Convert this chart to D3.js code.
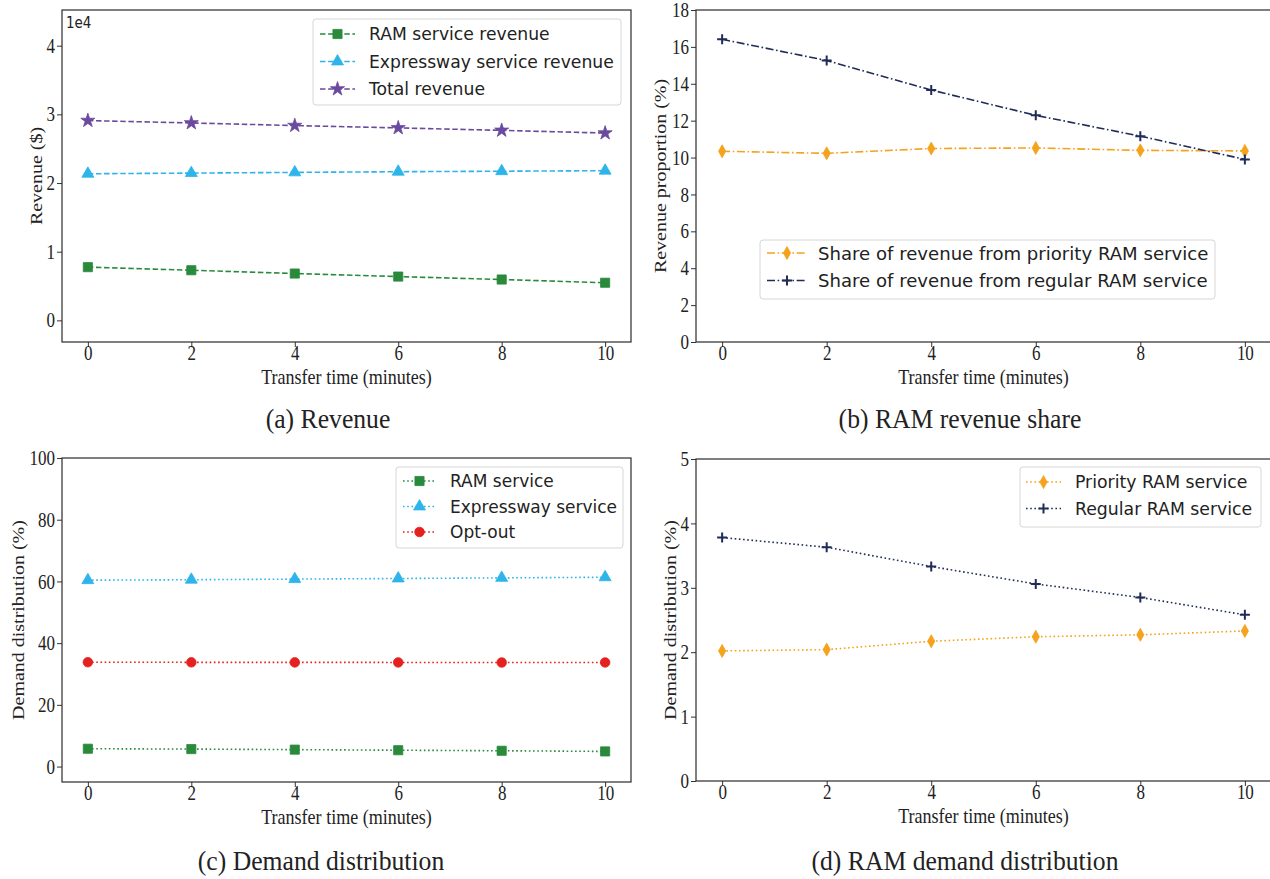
<!DOCTYPE html>
<html><head><meta charset="utf-8">
<script src="https://cdn.jsdelivr.net/npm/d3@7"></script>
<style>body{margin:0;background:#fff}svg{display:block}</style>
</head><body>
<svg id="c" width="1270" height="879"></svg>
<script>
// ---------- data ----------
const transferTimes = [0, 2, 4, 6, 8, 10];
const xTicks = [0, 2, 4, 6, 8, 10];

const ramRevenue        = [7750, 7300, 6820, 6380, 5950, 5480];
const expresswayRevenue = [21350, 21450, 21550, 21650, 21720, 21800];
const totalRevenue      = [29100, 28750, 28370, 28030, 27670, 27280];
const revenueTicks      = [0, 10000, 20000, 30000, 40000];

const priorityShare = [10.34, 10.23, 10.49, 10.52, 10.39, 10.36];
const regularShare  = [16.41, 15.26, 13.66, 12.29, 11.16, 9.90];
const shareTicks    = [0, 2, 4, 6, 8, 10, 12, 14, 16, 18];

const ramDemand        = [5.78, 5.67, 5.49, 5.30, 5.12, 4.91];
const expresswayDemand = [60.40, 60.55, 60.75, 60.95, 61.15, 61.35];
const optOutDemand     = [33.82, 33.78, 33.76, 33.75, 33.73, 33.74];
const demandTicks      = [0, 20, 40, 60, 80, 100];

const priorityDemand = [2.02, 2.04, 2.17, 2.24, 2.27, 2.33];
const regularDemand  = [3.78, 3.63, 3.33, 3.06, 2.85, 2.58];
const ramDemandTicks = [0, 1, 2, 3, 4, 5];

// ---------- styles ----------
const C = {green:"#2a8a3c", blue:"#2db4ea", purple:"#6a4a9e", orange:"#f5a21c", navy:"#1f2c58", red:"#e5211f"};
const DASH = {dashed:"5.5,2.6", dashdot:"8,2.6,1.6,2.6", dotted:"1.6,2.6"};
const SERIF = "'Liberation Serif','Times New Roman',serif";
const SANS = "'DejaVu Sans',sans-serif";
const SQ = 0.85;

const svg = d3.select("#c");

function markerPath(type) {
  if (type === "square") return d3.symbol(d3.symbolSquare, 84)();
  if (type === "triangle") return d3.symbol(d3.symbolTriangle, 62)();
  if (type === "star") return d3.symbol(d3.symbolStar, 62)();
  if (type === "circle") return d3.symbol(d3.symbolCircle, 72)();
  if (type === "thindiamond") return "M0,-6.5L3.6,0L0,6.5L-3.6,0Z";
  if (type === "plus") return "M-5,0H5M0,-5V5";
  return "";
}
function drawMarker(g, type, color, x, y) {
  const p = g.append("path").attr("d", markerPath(type)).attr("transform", `translate(${x},${y})`);
  if (type === "plus") p.attr("fill", "none").attr("stroke", color).attr("stroke-width", 2);
  else p.attr("fill", color).attr("stroke", color).attr("stroke-width", 0.8);
}

function squeezeText(sel, k) {
  sel.each(function () {
    const t = d3.select(this);
    const x = +t.attr("x") || 0;
    t.attr("x", x / k).attr("transform", `scale(${k},1)`);
  });
}

function panel(cfg) {
  const g = svg.append("g");
  const x = d3.scaleLinear().domain([-0.5, 10.5]).range([cfg.L, cfg.R]);
  const y = d3.scaleLinear().domain(cfg.yDomain).range([cfg.B, cfg.T]);

  // axes
  const ax = g.append("g").attr("transform", `translate(0,${cfg.B})`)
    .call(d3.axisBottom(x).tickValues(xTicks).tickSize(5).tickPadding(3).tickFormat(d3.format("d")));
  const ay = g.append("g").attr("transform", `translate(${cfg.L},0)`)
    .call(d3.axisLeft(y).tickValues(cfg.yTicks).tickSize(5).tickPadding(3).tickFormat(cfg.yFmt));
  [ax, ay].forEach(a => {
    a.select(".domain").remove();
    a.selectAll(".tick line").attr("stroke", "#333").attr("stroke-width", 1);
    a.selectAll(".tick text").attr("font-family", SERIF).attr("font-size", 20).attr("fill", "#222");
  });
  ax.selectAll(".tick text").attr("y", 18.5).attr("dy", 0);
  squeezeText(ax.selectAll(".tick text"), SQ);
  ay.selectAll(".tick text").attr("x", -7).attr("dy", "0.33em");
  squeezeText(ay.selectAll(".tick text"), SQ);

  // series
  cfg.series.forEach(s => {
    const pts = transferTimes.map((t, i) => [x(t), y(s.values[i])]);
    g.append("path").attr("d", d3.line()(pts)).attr("fill", "none")
      .attr("stroke", s.color).attr("stroke-width", 1.6).attr("stroke-dasharray", DASH[s.dash]);
    pts.forEach(p => drawMarker(g, s.marker, s.color, p[0], p[1]));
  });

  // frame
  g.append("rect").attr("x", cfg.L).attr("y", cfg.T).attr("width", cfg.R - cfg.L).attr("height", cfg.B - cfg.T)
    .attr("fill", "none").attr("stroke", "#2b2b2b").attr("stroke-width", 1.2);

  // offset text
  if (cfg.offset) {
    g.append("text").attr("x", (cfg.L + 4) / 0.9).attr("y", cfg.T + 18).attr("transform", "scale(0.9,1)")
      .attr("font-family", SANS).attr("font-size", 15).attr("fill", "#222").text(cfg.offset);
  }

  // legend
  const lg = cfg.legend;
  g.append("rect").attr("x", lg.x).attr("y", lg.y).attr("width", lg.w).attr("height", lg.h).attr("rx", 3)
    .attr("fill", "#fff").attr("fill-opacity", 0.85).attr("stroke", "#d6d6d6").attr("stroke-width", 1);
  cfg.series.forEach((s, i) => {
    const yy = lg.y + lg.first + i * lg.step;
    g.append("line").attr("x1", lg.x + lg.hx0).attr("x2", lg.x + lg.hx1).attr("y1", yy).attr("y2", yy)
      .attr("stroke", s.color).attr("stroke-width", 1.6).attr("stroke-dasharray", DASH[s.dash]);
    drawMarker(g, s.marker, s.color, lg.x + (lg.hx0 + lg.hx1) / 2, yy);
    g.append("text").attr("x", lg.x + lg.tx).attr("y", yy).attr("dy", "0.36em")
      .attr("font-family", SANS).attr("font-size", lg.fs).attr("fill", "#222").text(s.name);
  });

  // axis labels
  const XS = 0.88;
  g.append("text").attr("x", ((cfg.L + cfg.R) / 2) / XS).attr("y", cfg.B + 42)
    .attr("transform", `scale(${XS},1)`).attr("text-anchor", "middle")
    .attr("font-family", SERIF).attr("font-size", 20.5).attr("fill", "#222").text("Transfer time (minutes)");
  g.append("text").attr("transform", `translate(${cfg.ylx},${(cfg.T + cfg.B) / 2}) scale(${SQ},1) rotate(-90)`)
    .attr("text-anchor", "middle").attr("font-family", SERIF).attr("font-size", 20).attr("fill", "#222")
    .text(cfg.ylabel);

  // caption
  g.append("text").attr("x", cfg.capX / 0.95).attr("y", cfg.capY).attr("transform", "scale(0.95,1)")
    .attr("text-anchor", "middle").attr("font-family", SERIF).attr("font-size", 27).attr("fill", "#222")
    .text(cfg.caption);
}

panel({
  L: 62, R: 631, T: 10, B: 342, yDomain: [-3150, 45200], yTicks: revenueTicks, yFmt: d => d / 10000,
  offset: "1e4", ylabel: "Revenue ($)", ylx: 42, caption: "(a) Revenue", capX: 328, capY: 428,
  series: [
    {name: "RAM service revenue", values: ramRevenue, color: C.green, dash: "dashed", marker: "square"},
    {name: "Expressway service revenue", values: expresswayRevenue, color: C.blue, dash: "dashed", marker: "triangle"},
    {name: "Total revenue", values: totalRevenue, color: C.purple, dash: "dashed", marker: "star"}
  ],
  legend: {x: 313, y: 19, w: 308, h: 86, first: 15, step: 27.5, hx0: 7, hx1: 42, tx: 56, fs: 17.2}
});

panel({
  L: 696, R: 1271, T: 10, B: 342, yDomain: [0, 18], yTicks: shareTicks, yFmt: d3.format("d"),
  ylabel: "Revenue proportion (%)", ylx: 666, caption: "(b) RAM revenue share", capX: 960, capY: 428,
  series: [
    {name: "Share of revenue from priority RAM service", values: priorityShare, color: C.orange, dash: "dashdot", marker: "thindiamond"},
    {name: "Share of revenue from regular RAM service", values: regularShare, color: C.navy, dash: "dashdot", marker: "plus"}
  ],
  legend: {x: 760, y: 240, w: 455, h: 59, first: 13, step: 27.5, hx0: 7, hx1: 47, tx: 58, fs: 18.1}
});

panel({
  L: 62, R: 631, T: 458, B: 782, yDomain: [-5, 100], yTicks: demandTicks, yFmt: d3.format("d"),
  ylabel: "Demand distribution (%)", ylx: 24, caption: "(c) Demand distribution", capX: 321, capY: 870,
  series: [
    {name: "RAM service", values: ramDemand, color: C.green, dash: "dotted", marker: "square"},
    {name: "Expressway service", values: expresswayDemand, color: C.blue, dash: "dotted", marker: "triangle"},
    {name: "Opt-out", values: optOutDemand, color: C.red, dash: "dotted", marker: "circle"}
  ],
  legend: {x: 396, y: 467, w: 227, h: 81, first: 14, step: 25.5, hx0: 7, hx1: 40, tx: 54, fs: 17}
});

panel({
  L: 696, R: 1271, T: 459, B: 781, yDomain: [0, 5], yTicks: ramDemandTicks, yFmt: d3.format("d"),
  ylabel: "Demand distribution (%)", ylx: 676, caption: "(d) RAM demand distribution", capX: 965, capY: 870,
  series: [
    {name: "Priority RAM service", values: priorityDemand, color: C.orange, dash: "dotted", marker: "thindiamond"},
    {name: "Regular RAM service", values: regularDemand, color: C.navy, dash: "dotted", marker: "plus"}
  ],
  legend: {x: 1020, y: 467, w: 241, h: 60, first: 15, step: 26.5, hx0: 6, hx1: 41, tx: 55, fs: 17.3}
});
</script>
</body></html>
